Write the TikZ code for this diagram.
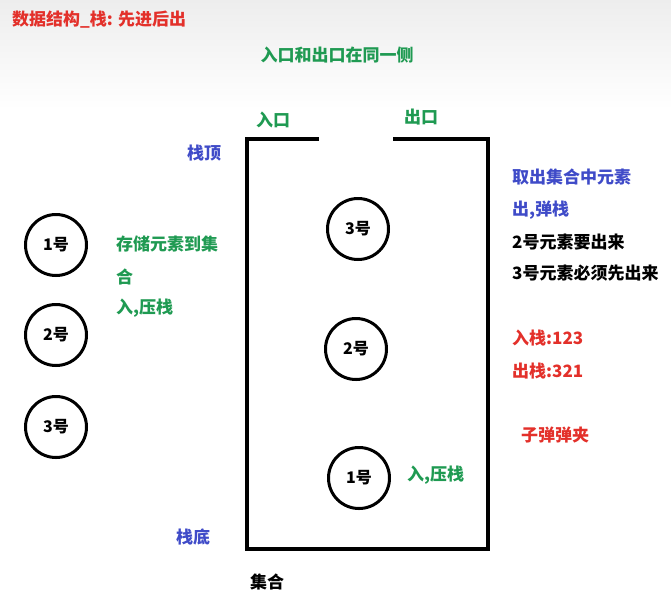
\documentclass[tikz,border=0pt]{standalone}
\usepackage{fontspec}
\setmainfont{Noto Sans CJK SC}
\usetikzlibrary{positioning}
\definecolor{tred}{HTML}{E3302A}
\definecolor{tgreen}{HTML}{1F9A52}
\definecolor{tblue}{HTML}{3F4BC8}

\begin{document}
\begin{tikzpicture}[x=1pt,y=-1pt,font=\bfseries\fontsize{17}{20}\selectfont,
  every node/.style={inner sep=0pt},
  ball/.style={circle,draw,line width=3pt,minimum size=61pt,font=\bfseries\fontsize{16}{18}\selectfont},
  lbl/.style={anchor=west}]
\useasboundingbox (0,0) rectangle (671,606);
\shade[top color=black!7,bottom color=white] (0,0) rectangle (671,110);
\node[lbl,tred] (title) at (12,20){数据结构\_栈: 先进后出};
\node[tgreen] (side) at (337,55){入口和出口在同一侧};
% the stack
\draw[line width=3.6pt] (319,139) -- (247,139) -- (247,549) -- (488,549) -- (488,139) -- (393,139);
\node[lbl,tgreen] (entry) at (256,120){入口};
\node[lbl,tgreen] (exit) at (404,117){出口};
\node[lbl,tblue] (top) at (187,153){栈顶};
\node[lbl,tblue] (bottom) at (176,537){栈底};
\node[lbl] (set) at (250,582){集合};
\node[ball] (s3) at (358,229){3号};
\node[ball] (s2) at (356,349){2号};
\node[ball] (s1) at (359,478){1号};
\node[lbl,tgreen] (push) at (407,475){入,压栈};
% waiting elements
\node[ball] (w1) at (56,245){1号};
\node[ball] (w2) at (56,335){2号};
\node[ball] (w3) at (56,427){3号};
\node[lbl,tgreen] (store1) at (116,244){存储元素到集};
\node[lbl,tgreen] (store2) at (116,277){合};
\node[lbl,tgreen] (store3) at (116,308){入,压栈};
% right notes
\node[lbl,tblue] (take1) at (512,177){取出集合中元素};
\node[lbl,tblue] (take2) at (512,210){出,弹栈};
\node[lbl] (note1) at (512,242){2号元素要出来};
\node[lbl] (note2) at (512,273){3号元素必须先出来};
\node[lbl,tred] (in) at (512,338){入栈:123};
\node[lbl,tred] (out) at (512,371){出栈:321};
\node[lbl,tred] (clip) at (521,435){子弹弹夹};
\end{tikzpicture}
\end{document}
